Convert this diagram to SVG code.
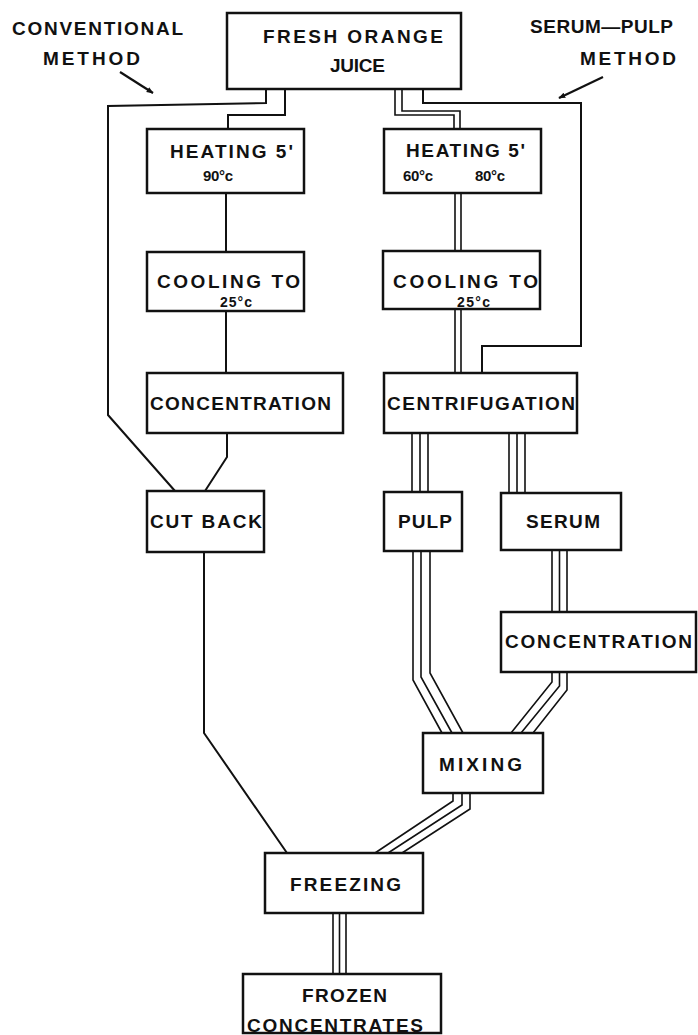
<svg xmlns="http://www.w3.org/2000/svg" width="698" height="1035" viewBox="0 0 698 1035">
  <style>
    .box { fill: #fff; stroke: #111; stroke-width: 2.5; }
    .lbl { font-family: "Liberation Sans", Arial, sans-serif; font-weight: bold; font-size: 19px; fill: #111; }
    .sm { font-size: 15px; }
    .xs { font-size: 14px; }
    .wire { fill: none; stroke: #111; stroke-width: 2; stroke-linejoin: miter; }
    .pipe { fill: none; stroke: #111; stroke-width: 1.6; }
  </style>
  <defs>
    <marker id="head" viewBox="0 0 10 10" refX="9" refY="5" markerWidth="7" markerHeight="7" orient="auto" markerUnits="userSpaceOnUse">
      <path d="M0,1 L10,5 L0,9 Z" fill="#111"/>
    </marker>
  </defs>
  <rect width="698" height="1035" fill="#fff"/>

  <!-- method captions with pointers -->
  <g id="caption-conventional">
    <text class="lbl" x="12" y="35" textLength="171" lengthAdjust="spacing">CONVENTIONAL</text>
    <text class="lbl" x="43" y="65" textLength="97" lengthAdjust="spacing">METHOD</text>
    <line x1="120" y1="72" x2="153" y2="93" stroke="#111" stroke-width="2.2" marker-end="url(#head)"/>
  </g>
  <g id="caption-serum-pulp">
    <text class="lbl" x="530" y="33" textLength="143" lengthAdjust="spacing">SERUM—PULP</text>
    <text class="lbl" x="580" y="65" textLength="96" lengthAdjust="spacing">METHOD</text>
    <line x1="603" y1="77" x2="559" y2="98" stroke="#111" stroke-width="2.2" marker-end="url(#head)"/>
  </g>

  <!-- connectors -->
  <g id="connectors">
    <!-- single lines: conventional route -->
    <path class="wire" d="M266,89 V103 L108,106 V415 L175,491"/>
    <path class="wire" d="M285,89 V115 H228 V129"/>
    <path class="wire" d="M226,193 V252"/>
    <path class="wire" d="M226,311 V373"/>
    <path class="wire" d="M227,433 V457 L205,491"/>
    <path class="wire" d="M204,552 V733 L287,853"/>
    <!-- single line: juice bypass to centrifugation -->
    <path class="wire" d="M423,89 V103 H581 V346 H482 V373"/>
    <!-- double lines -->
    <path class="pipe" d="M395,89 V115 H454 V129"/>
    <path class="pipe" d="M402,89 V111 H460 V129"/>
    <path class="pipe" d="M455,193 V251 M461,193 V251"/>
    <path class="pipe" d="M455,309 V373 M461,309 V373"/>
    <!-- triple lines -->
    <path class="pipe" d="M412,433 V492 M420,433 V492 M428,433 V492"/>
    <path class="pipe" d="M509,433 V493 M517,433 V493 M525,433 V493"/>
    <path class="pipe" d="M552,550 V612 M559.5,550 V612 M567,550 V612"/>
    <path class="pipe" d="M413,551 V680 L442,733 M421,551 V677 L452,733 M430,551 V673 L463,733"/>
    <path class="pipe" d="M552,672 V682 L511,733 M559.5,672 V686 L521,733 M567,672 V690 L533,733"/>
    <path class="pipe" d="M453,793 V801 L375,853 M462,793 V805 L388,853 M470,793 V809 L402,853"/>
    <path class="pipe" d="M333,913 V974 M339.5,913 V974 M346,913 V974"/>
  </g>

  <!-- nodes -->
  <g id="fresh-juice">
    <rect class="box" x="227" y="13" width="234" height="76"/>
    <text class="lbl" x="263" y="43" textLength="180" lengthAdjust="spacing">FRESH  ORANGE</text>
    <text class="lbl" x="330" y="72" textLength="55" lengthAdjust="spacing">JUICE</text>
  </g>
  <g id="heating-conv">
    <rect class="box" x="147" y="129" width="157" height="64"/>
    <text class="lbl" x="170" y="158" textLength="123" lengthAdjust="spacing">HEATING 5'</text>
    <text class="lbl sm" x="203" y="181" textLength="30" lengthAdjust="spacing">90°c</text>
  </g>
  <g id="cooling-conv">
    <rect class="box" x="147" y="252" width="157" height="59"/>
    <text class="lbl" x="157" y="288" textLength="143" lengthAdjust="spacing">COOLING TO</text>
    <text class="lbl xs" x="220" y="307" textLength="32" lengthAdjust="spacing">25°c</text>
  </g>
  <g id="concentration-conv">
    <rect class="box" x="147" y="373" width="196" height="60"/>
    <text class="lbl" x="150" y="410" textLength="181" lengthAdjust="spacing">CONCENTRATION</text>
  </g>
  <g id="cut-back">
    <rect class="box" x="147" y="491" width="117" height="61"/>
    <text class="lbl" x="150" y="528" textLength="112" lengthAdjust="spacing">CUT BACK</text>
  </g>
  <g id="heating-sp">
    <rect class="box" x="384" y="129" width="157" height="64"/>
    <text class="lbl" x="406" y="157" textLength="119" lengthAdjust="spacing">HEATING 5'</text>
    <text class="lbl sm" x="403" y="181" textLength="30" lengthAdjust="spacing">60°c</text>
    <text class="lbl sm" x="475" y="181" textLength="30" lengthAdjust="spacing">80°c</text>
  </g>
  <g id="cooling-sp">
    <rect class="box" x="383" y="251" width="157" height="58"/>
    <text class="lbl" x="393" y="288" textLength="145" lengthAdjust="spacing">COOLING TO</text>
    <text class="lbl xs" x="457" y="307" textLength="33" lengthAdjust="spacing">25°c</text>
  </g>
  <g id="centrifugation">
    <rect class="box" x="384" y="373" width="193" height="60"/>
    <text class="lbl" x="387" y="410" textLength="188" lengthAdjust="spacing">CENTRIFUGATION</text>
  </g>
  <g id="pulp">
    <rect class="box" x="384" y="492" width="78" height="59"/>
    <text class="lbl" x="398" y="528" textLength="54" lengthAdjust="spacing">PULP</text>
  </g>
  <g id="serum">
    <rect class="box" x="501" y="493" width="120" height="57"/>
    <text class="lbl" x="526" y="528" textLength="74" lengthAdjust="spacing">SERUM</text>
  </g>
  <g id="concentration-sp">
    <rect class="box" x="501" y="612" width="195" height="60"/>
    <text class="lbl" x="505" y="648" textLength="187" lengthAdjust="spacing">CONCENTRATION</text>
  </g>
  <g id="mixing">
    <rect class="box" x="423" y="733" width="120" height="60"/>
    <text class="lbl" x="439" y="771" textLength="83" lengthAdjust="spacing">MIXING</text>
  </g>
  <g id="freezing">
    <rect class="box" x="265" y="853" width="158" height="60"/>
    <text class="lbl" x="290" y="891" textLength="111" lengthAdjust="spacing">FREEZING</text>
  </g>
  <g id="frozen-concentrates">
    <rect class="box" x="243" y="974" width="198" height="59"/>
    <text class="lbl" x="302" y="1002" textLength="85" lengthAdjust="spacing">FROZEN</text>
    <text class="lbl" x="247" y="1032" textLength="176" lengthAdjust="spacing">CONCENTRATES</text>
  </g>
</svg>
